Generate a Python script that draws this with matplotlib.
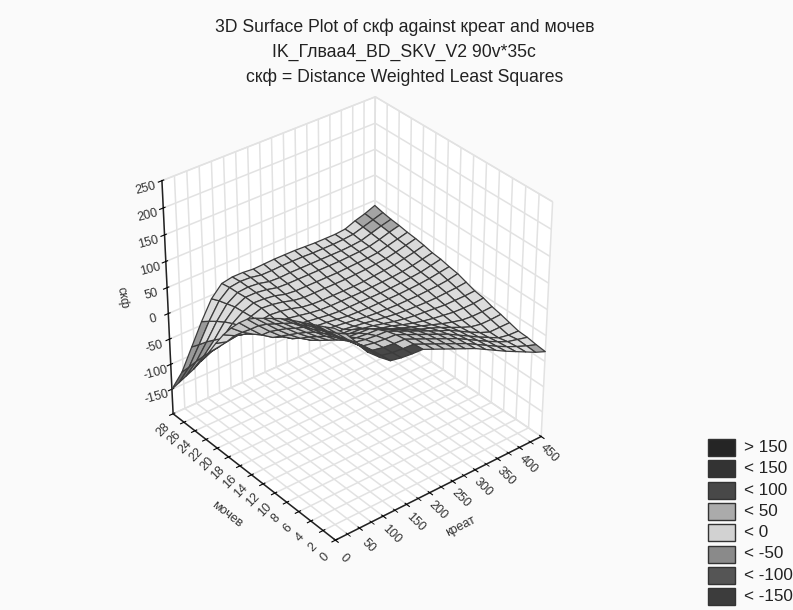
#!/usr/bin/env python3
# -*- coding: UTF-8 -*-

import numpy as np
import matplotlib
matplotlib.use("Agg")
import matplotlib.pyplot as plt
from matplotlib.colors import to_rgba
from matplotlib.patches import Rectangle
from matplotlib.ticker import MultipleLocator

title_lines = ["3D Surface Plot of скф against креат and мочев",
               "IK_Глваа4_BD_SKV_V2 90v*35c",
               "скф = Distance Weighted Least Squares"]

# grid of the fit: 21 x 21 nodes, creat along the rows, urine across
creat = [0, 22.5, 45, 67.5, 90, 112.5, 135, 157.5, 180, 202.5, 225,
         247.5, 270, 292.5, 315, 337.5, 360, 382.5, 405, 427.5, 450]
urine = [0, 1.4, 2.8, 4.2, 5.6, 7, 8.4, 9.8, 11.2, 12.6, 14,
         15.4, 16.8, 18.2, 19.6, 21, 22.4, 23.8, 25.2, 26.6, 28]
skf = [
    [197, 178, 153, 126, 108, 92, 88, 86, 85, 76, 67, 58, 49, 40, 29, 18, 7, -3, -13, -23, -31],
    [188, 168, 147, 127, 108, 90, 86, 84, 83, 74, 65, 56, 47, 38, 27, 16, 5, -5, -14, -22, -29],
    [180, 160, 141, 123, 105, 88, 84, 82, 81, 72, 63, 54, 45, 36, 25, 14, 3, -7, -16, -21, -26],
    [172, 155, 137, 119, 101, 85, 81, 79, 78, 69, 60, 51, 42, 33, 22, 11, 0, -10, -20, -24, -25],
    [164, 147, 130, 113, 96, 80, 76, 74, 73, 64, 55, 46, 37, 28, 20, 9, -2, -12, -20, -20, -20],
    [156, 138, 121, 104, 88, 72, 68, 66, 65, 56, 47, 38, 29, 22, 14, 5, -4, -12, -16, -16, -15],
    [147, 130, 113, 95, 78, 62, 58, 56, 55, 46, 37, 29, 22, 15, 8, 1, -5, -10, -12, -12, -11],
    [136, 118, 100, 83, 66, 50, 46, 44, 43, 34, 27, 22, 15, 9, 4, 0, -3, -6, -7, -7, -5],
    [125, 106, 88, 70, 54, 38, 34, 32, 31, 24, 20, 15, 10, 6, 3, 1, -1, -3, -3, -3, -2],
    [114, 94, 74, 56, 40, 27, 23, 21, 20, 17, 14, 10, 7, 4, 2, 1, 0, 0, 1, 2, 4],
    [101, 80, 60, 42, 28, 20, 18, 16, 15, 12, 9, 6, 4, 3, 2, 2, 2, 3, 4, 6, 10],
    [83, 62, 42, 28, 20, 18, 15, 13, 11, 8, 5, 4, 3, 3, 3, 3, 4, 5, 7, 10, 13],
    [62, 45, 32, 24, 19, 17, 14, 11, 8, 5, 3, 3, 3, 3, 3, 4, 5, 7, 9, 13, 17],
    [38, 27, 21, 18, 17, 17, 15, 11, 7, 4, 3, 3, 3, 3, 4, 5, 6, 8, 11, 15, 19],
    [10, 4, 7, 11, 16, 19, 17, 13, 7, 4, 3, 3, 3, 3, 4, 6, 8, 10, 14, 18, 23],
    [-20, -17, -8, 5, 14, 21, 19, 15, 9, 6, 6, 6, 6, 6, 7, 8, 10, 12, 16, 21, 26],
    [-48, -38, -22, -2, 12, 20, 19, 16, 10, 8, 8, 8, 8, 8, 9, 10, 11, 13, 18, 23, 28],
    [-75, -58, -36, -10, 10, 20, 20, 17, 12, 11, 11, 11, 11, 11, 11, 12, 13, 15, 20, 26, 31],
    [-100, -80, -51, -20, 5, 18, 20, 18, 13, 12, 13, 13, 13, 13, 13, 13, 14, 16, 22, 28, 33],
    [-125, -103, -68, -31, 0, 17, 20, 19, 15, 15, 16, 16, 16, 15, 15, 15, 16, 18, 24, 30, 36],
    [-150, -125, -84, -43, -7, 14, 18, 18, 16, 17, 18, 18, 18, 17, 16, 16, 16, 18, 26, 32, 40],
]

legend_labels = ["> 150", "< 150", "< 100", "< 50", "< 0", "< -50", "< -100", "< -150"]
legend_colors = ["#252525", "#333333", "#484848", "#ababab", "#d2d2d2", "#8a8a8a", "#555555", "#3c3c3c"]

# tones as they look on the lit surface, lowest band first
band_edges = [-200, -150, -100, -50, 0, 35, 50, 100, 150, 250]
surface_tones = ["#5a5a5a", "#6c6c6c", "#999999", "#dcdcdc", "#dadada", "#c8c8c8", "#c8c8c8", "#c8c8c8", "#c0c0c0"]
dark_cells = [(0, 3), (0, 4), (0, 5), (0, 6), (0, 7), (1, 3), (1, 4), (1, 5), (1, 6)]
grey_cells = [(0, 19), (19, 19), (18, 19), (19, 18), (18, 18), (17, 19)]

x_ticks = [0, 50, 100, 150, 200, 250, 300, 350, 400, 450]
y_ticks = [0, 2, 4, 6, 8, 10, 12, 14, 16, 18, 20, 22, 24, 26, 28]
z_ticks = [-150, -100, -50, 0, 50, 100, 150, 200, 250]

if __name__ == "__main__":
    plt.rcParams['font.family'] = ['Liberation Sans', 'DejaVu Sans']
    plt.rcParams['axes.unicode_minus'] = False
    plt.rcParams['grid.color'] = '#e2e2e2'
    plt.rcParams['grid.linewidth'] = 1.1

    fig = plt.figure(figsize=(7.93, 6.10), dpi=100, facecolor='#fafafa')
    ax = fig.add_axes([-0.062, -0.05, 1.0, 1.05], projection='3d')
    ax.set_facecolor('none')
    ax.set_proj_type('persp', focal_length=0.75)
    ax.view_init(elev=33.5, azim=-129)
    ax.set_box_aspect((1, 1, 1.04), zoom=0.717)

    X, Y = np.meshgrid(creat, urine)
    Z = np.array(skf, dtype=float)
    # one tone per cell from the mean of its corners
    cell_mean = (Z[:-1, :-1] + Z[1:, :-1] + Z[:-1, 1:] + Z[1:, 1:]) / 4
    faces = np.ones(Z.shape + (4,))
    for row in range(cell_mean.shape[0]):
        for col in range(cell_mean.shape[1]):
            band = np.searchsorted(band_edges, cell_mean[row, col]) - 1
            faces[row, col] = to_rgba(surface_tones[band])
    for row, col in dark_cells:
        faces[row, col] = to_rgba("#484848")
    for row, col in grey_cells:
        faces[row, col] = to_rgba("#a4a4a4")
    ax.plot_surface(X, Y, Z, rstride=1, cstride=1, facecolors=faces,
                    edgecolor='#3c3c3c', linewidth=0.9, shade=False, antialiased=True)

    ax.set_xlim(0, 450)
    ax.set_ylim(0, 28)
    ax.set_zlim(-200, 250)
    ax.set_xticks(x_ticks)
    ax.set_yticks(y_ticks)
    ax.set_zticks(z_ticks)
    ax.xaxis.set_minor_locator(MultipleLocator(25))

    plt.setp(ax.get_xticklabels(), rotation=-45, color='#333333', fontsize=9, va='center', ha='center')
    plt.setp(ax.get_yticklabels(), rotation=45, color='#333333', fontsize=9, va='center', ha='center')
    plt.setp(ax.get_zticklabels(), rotation=15, color='#333333', fontsize=9)
    ax.tick_params(axis='x', pad=4)
    ax.tick_params(axis='y', pad=4)
    ax.tick_params(axis='z', pad=2)
    ax.set_xlabel('креат', fontsize=9, color='#333333', labelpad=6)
    ax.set_ylabel('мочев', fontsize=9, color='#333333', labelpad=8)
    ax.zaxis.set_rotate_label(False)
    ax.set_zlabel('скф', fontsize=9, color='#333333', labelpad=8, rotation=-80)

    for axis in (ax.xaxis, ax.yaxis, ax.zaxis):
        axis.set_pane_color('white')
        axis.pane.set_edgecolor('#e2e2e2')
        axis.line.set_color('#222222')
        axis.line.set_linewidth(1.1)

    for idx, line in enumerate(title_lines):
        fig.text(0.51, 1 - (27 + 25 * idx) / 610, line, ha='center', va='center',
                 fontsize=12.7, color='#222222')

    # legend on the lower right
    for idx, (label, color) in enumerate(zip(legend_labels, legend_colors)):
        top = 439 + 21.3 * idx
        fig.add_artist(Rectangle((708 / 793, 1 - (top + 17) / 610), 27 / 793, 17 / 610,
                                 transform=fig.transFigure, facecolor=color,
                                 edgecolor='#333333', linewidth=1.0))
        fig.text(744 / 793, 1 - (top + 8.5) / 610, label, ha='left', va='center',
                 fontsize=12.3, color='#222222')

    fig.savefig('out.png', dpi=100, facecolor=fig.get_facecolor())
